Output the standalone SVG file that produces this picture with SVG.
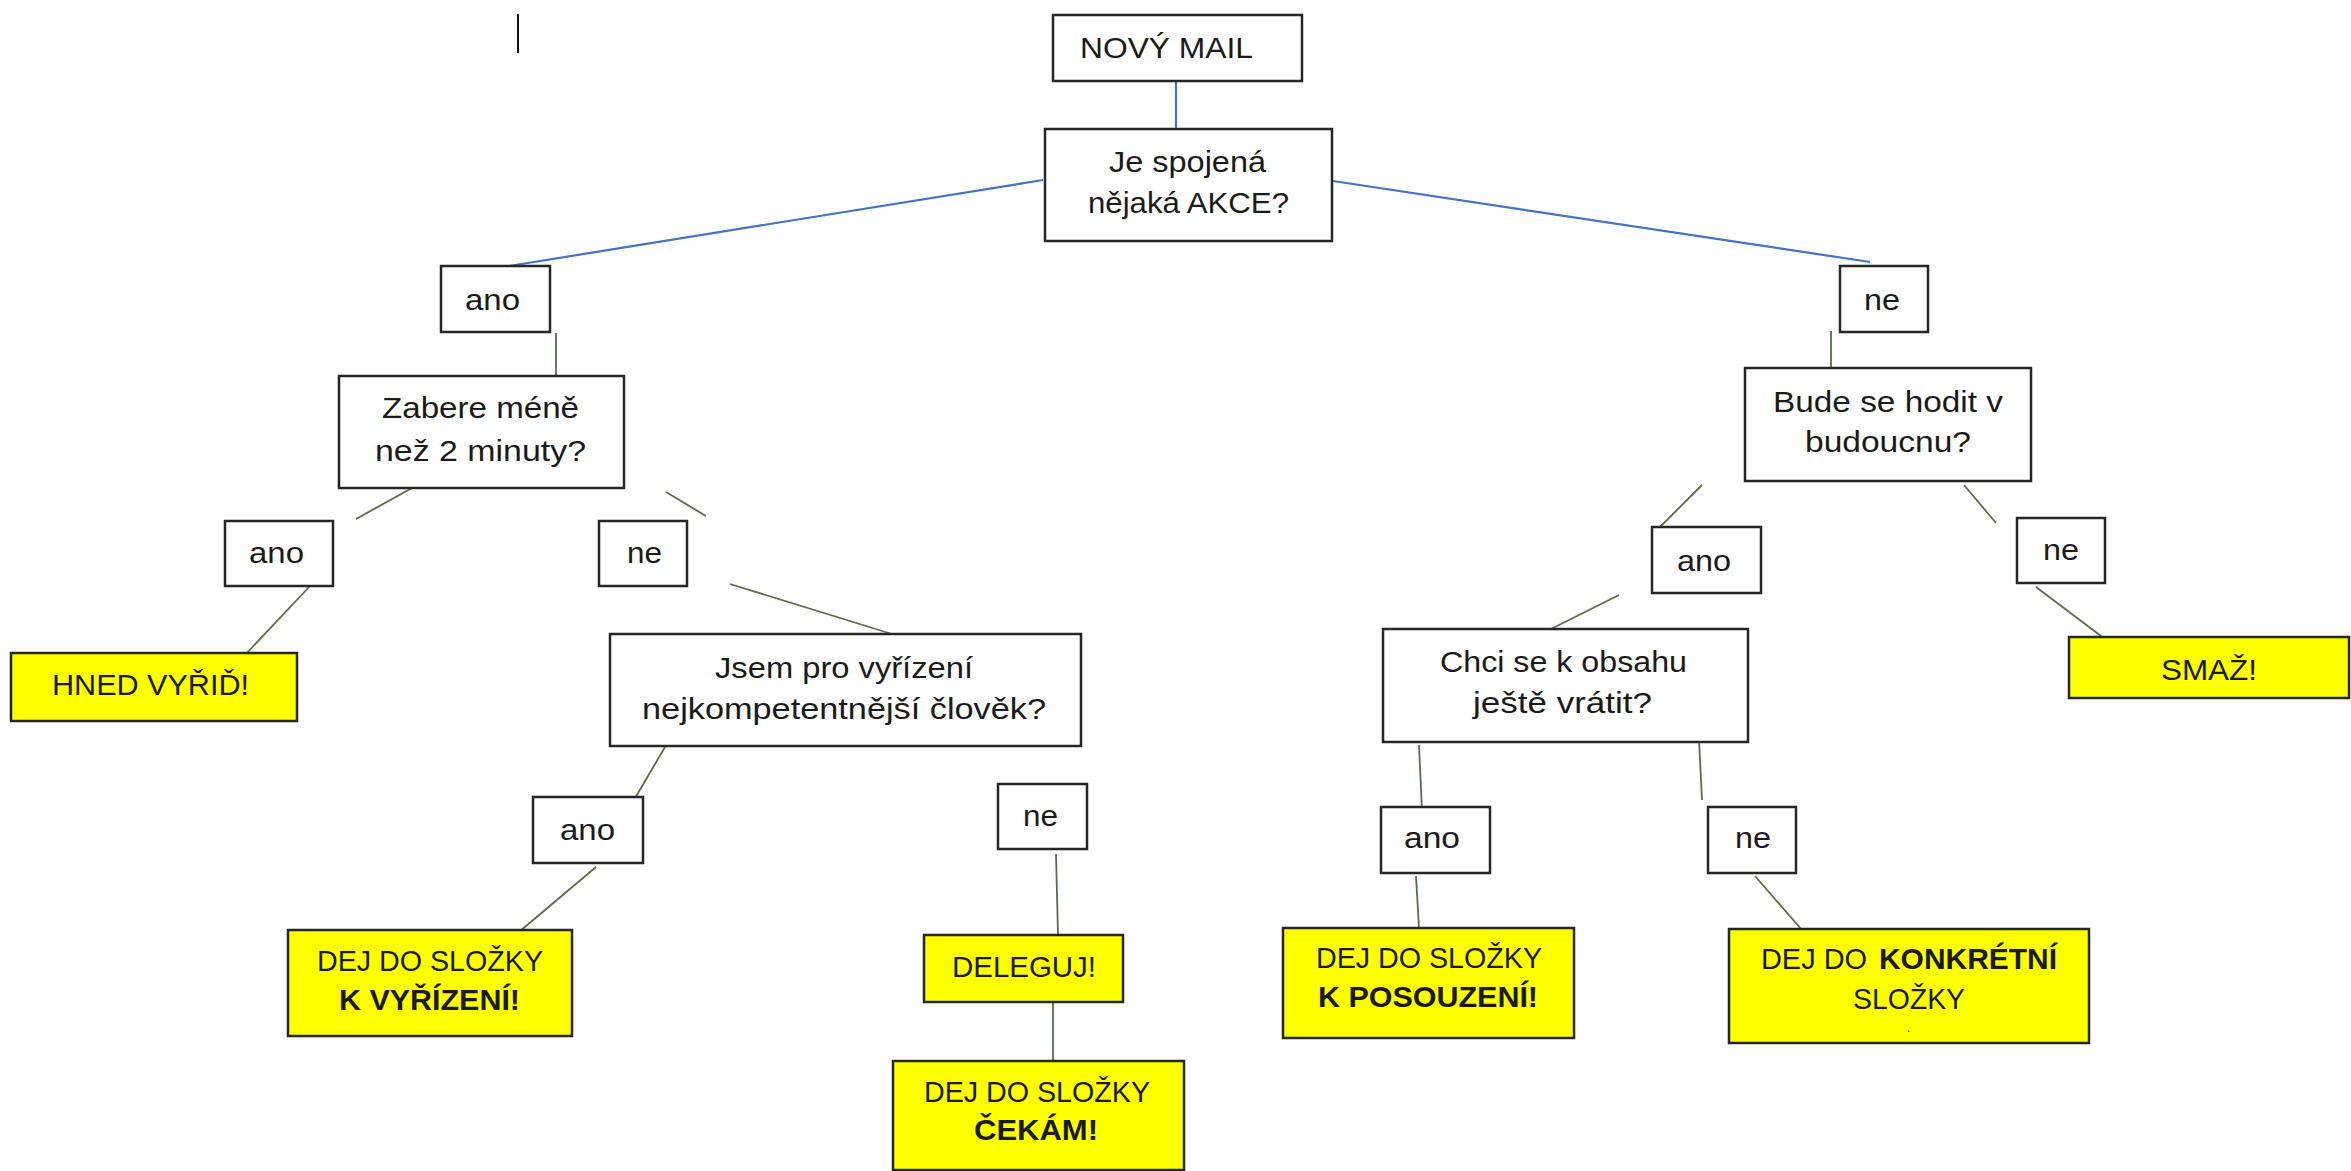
<svg xmlns="http://www.w3.org/2000/svg" width="2351" height="1171" viewBox="0 0 2351 1171">
<style>
.box{fill:#fff;stroke:#262626;stroke-width:2.5}
.act{fill:#ffff00;stroke:#262626;stroke-width:2.5}
.t{font-family:"Liberation Sans",Arial,sans-serif;font-size:30px;fill:#1a1a1a}
.b{font-weight:bold}
.dot{font-size:12px}
.c{stroke:#5b6b4b;stroke-width:1.8;fill:none}
.bl{stroke:#4472c4;stroke-width:2.2;fill:none}
</style>
<rect width="2351" height="1171" fill="#fff"/>
<line x1="518" y1="14" x2="518" y2="53" stroke="#111" stroke-width="2"/>
<g id="connectors">
<line class="bl" x1="1176" y1="81" x2="1176" y2="129"/>
<line class="bl" x1="1043" y1="180" x2="509" y2="266"/>
<line class="bl" x1="1333" y1="181" x2="1870" y2="262"/>
<line class="c" x1="556" y1="333" x2="556" y2="377"/>
<line class="c" x1="412" y1="488" x2="356" y2="519"/>
<line class="c" x1="311" y1="585" x2="244" y2="656"/>
<line class="c" x1="666" y1="492" x2="706" y2="516"/>
<line class="c" x1="730" y1="584" x2="892" y2="634"/>
<line class="c" x1="665" y1="747" x2="634" y2="800"/>
<line class="c" x1="596" y1="867" x2="513" y2="937"/>
<line class="c" x1="1056" y1="854" x2="1058" y2="935"/>
<line class="c" x1="1053" y1="1002" x2="1053" y2="1061"/>
<line class="c" x1="1831" y1="331" x2="1831" y2="369"/>
<line class="c" x1="1702" y1="485" x2="1657" y2="530"/>
<line class="c" x1="1964" y1="485" x2="1996" y2="523"/>
<line class="c" x1="1619" y1="595" x2="1545" y2="632"/>
<line class="c" x1="2036" y1="587" x2="2105" y2="639"/>
<line class="c" x1="1419" y1="745" x2="1422" y2="811"/>
<line class="c" x1="1699" y1="739" x2="1702" y2="800"/>
<line class="c" x1="1416" y1="876" x2="1419" y2="928"/>
<line class="c" x1="1755" y1="876" x2="1808" y2="937"/>
</g>
<g id="n-novy-mail"><rect class="box" x="1053" y="15" width="249" height="66"/><text class="t" x="1080" y="58" textLength="173" lengthAdjust="spacingAndGlyphs">NOVÝ MAIL</text></g>
<g id="n-akce"><rect class="box" x="1045" y="129" width="287" height="112"/><text class="t" x="1109" y="172" textLength="157" lengthAdjust="spacingAndGlyphs">Je spojená</text><text class="t" x="1088" y="213" textLength="201" lengthAdjust="spacingAndGlyphs">nějaká AKCE?</text></g>
<g id="n-ano1"><rect class="box" x="441" y="266" width="109" height="66"/><text class="t" x="465" y="310" textLength="55" lengthAdjust="spacingAndGlyphs">ano</text></g>
<g id="n-ne1"><rect class="box" x="1840" y="266" width="88" height="66"/><text class="t" x="1864" y="310" textLength="36" lengthAdjust="spacingAndGlyphs">ne</text></g>
<g id="n-zabere"><rect class="box" x="339" y="376" width="285" height="112"/><text class="t" x="382" y="418" textLength="197" lengthAdjust="spacingAndGlyphs">Zabere méně</text><text class="t" x="375" y="461" textLength="211" lengthAdjust="spacingAndGlyphs">než 2 minuty?</text></g>
<g id="n-bude"><rect class="box" x="1745" y="368" width="286" height="113"/><text class="t" x="1773" y="412" textLength="230" lengthAdjust="spacingAndGlyphs">Bude se hodit v</text><text class="t" x="1805" y="452" textLength="166" lengthAdjust="spacingAndGlyphs">budoucnu?</text></g>
<g id="n-ano2"><rect class="box" x="225" y="521" width="108" height="65"/><text class="t" x="249" y="563" textLength="55" lengthAdjust="spacingAndGlyphs">ano</text></g>
<g id="n-ne2"><rect class="box" x="599" y="521" width="88" height="65"/><text class="t" x="627" y="563" textLength="35" lengthAdjust="spacingAndGlyphs">ne</text></g>
<g id="n-ano-r2"><rect class="box" x="1652" y="527" width="109" height="66"/><text class="t" x="1677" y="571" textLength="54" lengthAdjust="spacingAndGlyphs">ano</text></g>
<g id="n-ne-r2"><rect class="box" x="2017" y="518" width="88" height="65"/><text class="t" x="2043" y="560" textLength="36" lengthAdjust="spacingAndGlyphs">ne</text></g>
<g id="n-hned"><rect class="act" x="11" y="653" width="286" height="68"/><text class="t" x="52" y="695" textLength="197" lengthAdjust="spacingAndGlyphs">HNED VYŘIĎ!</text></g>
<g id="n-jsem"><rect class="box" x="610" y="634" width="471" height="112"/><text class="t" x="715" y="678" textLength="258" lengthAdjust="spacingAndGlyphs">Jsem pro vyřízení</text><text class="t" x="642" y="719" textLength="404" lengthAdjust="spacingAndGlyphs">nejkompetentnější člověk?</text></g>
<g id="n-chci"><rect class="box" x="1383" y="629" width="365" height="113"/><text class="t" x="1440" y="672" textLength="247" lengthAdjust="spacingAndGlyphs">Chci se k obsahu</text><text class="t" x="1473" y="713" textLength="179" lengthAdjust="spacingAndGlyphs">ještě vrátit?</text></g>
<g id="n-smaz"><rect class="act" x="2069" y="637" width="280" height="61"/><text class="t" x="2161" y="680" textLength="96" lengthAdjust="spacingAndGlyphs">SMAŽ!</text></g>
<g id="n-ano3"><rect class="box" x="533" y="797" width="110" height="66"/><text class="t" x="560" y="840" textLength="55" lengthAdjust="spacingAndGlyphs">ano</text></g>
<g id="n-ne3"><rect class="box" x="998" y="784" width="89" height="65"/><text class="t" x="1023" y="826" textLength="35" lengthAdjust="spacingAndGlyphs">ne</text></g>
<g id="n-ano-r3"><rect class="box" x="1381" y="807" width="109" height="66"/><text class="t" x="1404" y="848" textLength="56" lengthAdjust="spacingAndGlyphs">ano</text></g>
<g id="n-ne-r3"><rect class="box" x="1708" y="807" width="88" height="66"/><text class="t" x="1735" y="848" textLength="36" lengthAdjust="spacingAndGlyphs">ne</text></g>
<g id="n-vyrizeni"><rect class="act" x="288" y="930" width="284" height="106"/><text class="t" x="317" y="971" textLength="226" lengthAdjust="spacingAndGlyphs">DEJ DO SLOŽKY</text><text class="t b" x="339" y="1010" textLength="181" lengthAdjust="spacingAndGlyphs">K VYŘÍZENÍ!</text></g>
<g id="n-deleguj"><rect class="act" x="924" y="935" width="199" height="67"/><text class="t" x="952" y="977" textLength="144" lengthAdjust="spacingAndGlyphs">DELEGUJ!</text></g>
<g id="n-posouzeni"><rect class="act" x="1283" y="928" width="291" height="110"/><text class="t" x="1316" y="968" textLength="226" lengthAdjust="spacingAndGlyphs">DEJ DO SLOŽKY</text><text class="t b" x="1318" y="1007" textLength="220" lengthAdjust="spacingAndGlyphs">K POSOUZENÍ!</text></g>
<g id="n-konkretni"><rect class="act" x="1729" y="929" width="360" height="114"/><text class="t" x="1761" y="969" textLength="106" lengthAdjust="spacingAndGlyphs">DEJ DO</text><text class="t b" x="1879" y="969" textLength="178" lengthAdjust="spacingAndGlyphs">KONKRÉTNÍ</text><text class="t" x="1853" y="1009" textLength="112" lengthAdjust="spacingAndGlyphs">SLOŽKY</text><text class="t dot" x="1907" y="1032">.</text></g>
<g id="n-cekam"><rect class="act" x="893" y="1061" width="291" height="109"/><text class="t" x="924" y="1102" textLength="226" lengthAdjust="spacingAndGlyphs">DEJ DO SLOŽKY</text><text class="t b" x="974" y="1140" textLength="124" lengthAdjust="spacingAndGlyphs">ČEKÁM!</text></g>
</svg>
